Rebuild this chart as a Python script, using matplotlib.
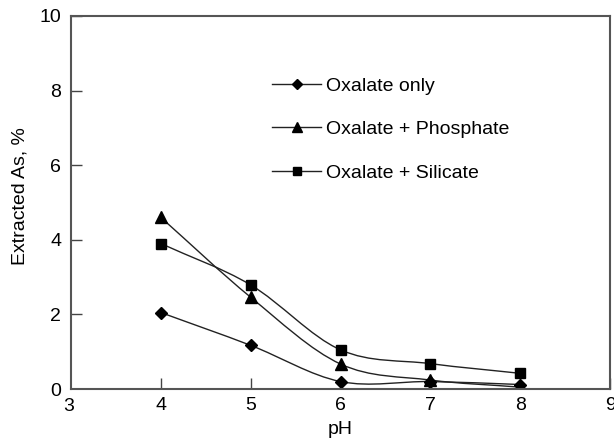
import numpy as np
import matplotlib
matplotlib.use("Agg")
import matplotlib.pyplot as plt
from matplotlib.path import Path
from matplotlib.patches import PathPatch
from matplotlib.lines import Line2D

ph = [4, 5, 6, 7, 8]
oxalate_only = [2.05, 1.17, 0.2, 0.2, 0.12]
oxalate_phosphate = [4.6, 2.46, 0.67, 0.24, 0.05]
oxalate_silicate = [3.9, 2.79, 1.05, 0.68, 0.42]
labels = ["Oxalate only", "Oxalate + Phosphate", "Oxalate + Silicate"]
markers = ["D", "^", "s"]
msizes = [6, 8, 7]

plt.rcParams['font.family'] = ['Liberation Sans', 'DejaVu Sans']
fs = 14


def smooth_path(x, y):
    # catmull-rom through the points, drawn as cubic beziers
    x = np.asarray(x, float)
    y = np.asarray(y, float)
    px = np.concatenate([[2 * x[0] - x[1]], x, [2 * x[-1] - x[-2]]])
    py = np.concatenate([[2 * y[0] - y[1]], y, [2 * y[-1] - y[-2]]])
    verts = [(x[0], y[0])]
    codes = [Path.MOVETO]
    for i in range(1, len(px) - 2):
        c1 = (px[i] + (px[i + 1] - px[i - 1]) / 6, py[i] + (py[i + 1] - py[i - 1]) / 6)
        c2 = (px[i + 1] - (px[i + 2] - px[i]) / 6, py[i + 1] - (py[i + 2] - py[i]) / 6)
        verts += [c1, c2, (px[i + 1], py[i + 1])]
        codes += [Path.CURVE4] * 3
    return Path(verts, codes)


fig = plt.figure(figsize=(6.14, 4.42), dpi=100)
ax = fig.add_axes([71 / 614, 1 - 389 / 442, (610 - 71) / 614, (389 - 16) / 442])

handles = []
for ys, lab, m, ms in zip([oxalate_only, oxalate_phosphate, oxalate_silicate], labels, markers, msizes):
    ax.add_patch(PathPatch(smooth_path(ph, ys), fill=False, edgecolor="#222222", lw=1.0))
    ax.plot(ph, ys, linestyle="none", marker=m, markersize=ms, color="black")
    handles.append(Line2D([], [], color="#222222", lw=1.0, marker=m, markersize=ms - 1,
                          markerfacecolor="black", markeredgecolor="black"))

ax.set_xlim(3, 9)
ax.set_ylim(0, 10)
ax.set_xticks([4, 5, 6, 7, 8, 9])
ax.set_yticks([2, 4, 6, 8, 10])
ax.tick_params(direction="in", length=8, width=1, color="#444444", labelsize=fs,
               top=False, right=False)
ax.tick_params(axis="x", pad=6)
ax.tick_params(axis="y", pad=7)
# the 0 and 3 corner labels sit apart from the others
ax.text(-0.018, -0.007, "0", transform=ax.transAxes, ha="right", va="center", fontsize=fs)
ax.text(-0.004, -0.024, "3", transform=ax.transAxes, ha="center", va="top", fontsize=fs)
for sp in ax.spines.values():
    sp.set_color("#555555")
    sp.set_linewidth(1.5)

ax.set_xlabel("pH", fontsize=fs, labelpad=5)
ax.set_ylabel("Extracted As, %", fontsize=fs)
ax.yaxis.set_label_coords(-0.078, 0.517)

ax.legend(handles, labels, loc="upper left", bbox_to_anchor=(0.341, 0.883), frameon=False,
          fontsize=fs, handlelength=2.5, handletextpad=0.25, labelspacing=1.33)

fig.savefig("out.png", dpi=100)
